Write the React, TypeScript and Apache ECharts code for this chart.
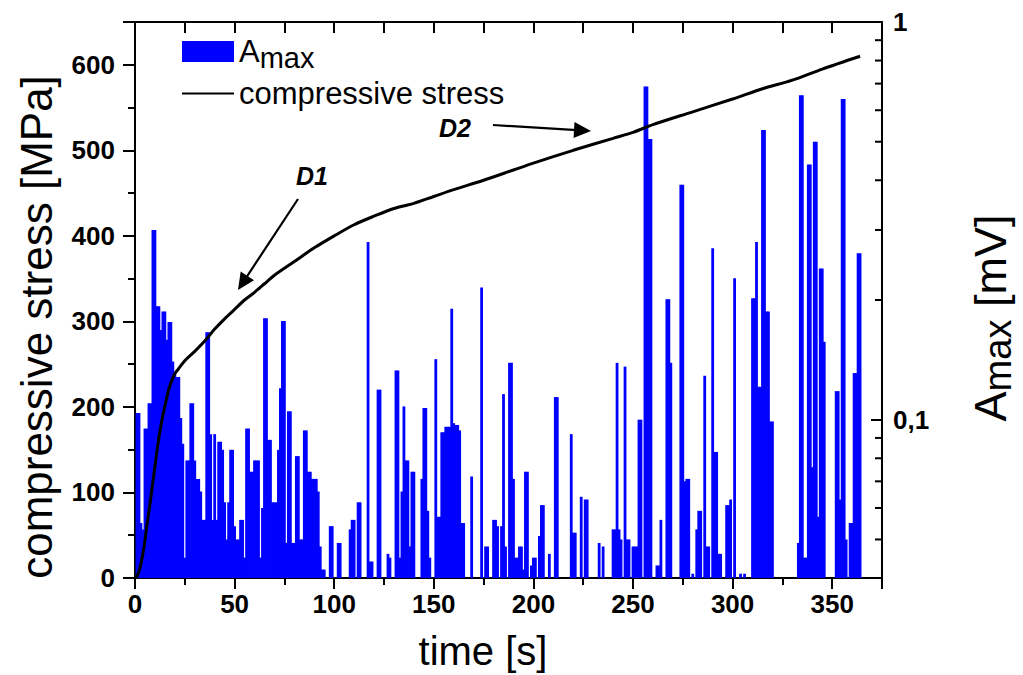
import React, { useEffect, useRef } from "react";
import * as echarts from "echarts";

// ---------------- data ----------------
// A_max bars (one per second): time [s] and amplitude [mV]
const amaxTime = [
  1, 2, 3, 4, 5, 6, 7, 8, 9, 10,
  11, 12, 13, 14, 15, 16, 17, 18, 19, 20,
  21, 22, 23, 24, 25, 26, 27, 28, 29, 30,
  31, 32, 33, 34, 35, 36, 37, 38, 39, 40,
  41, 42, 43, 44, 45, 46, 47, 48, 49, 50,
  51, 52, 53, 54, 55, 56, 57, 58, 59, 60,
  61, 62, 63, 64, 65, 66, 67, 68, 69, 70,
  71, 72, 73, 74, 75, 76, 77, 78, 79, 80,
  81, 82, 83, 84, 85, 86, 87, 88, 89, 90,
  91, 92, 93, 94, 95,
  98, 99, 102, 103, 108, 109, 110, 112, 113,
  117, 118, 119, 122, 123, 127, 128,
  131, 132, 133, 134, 135, 136, 137, 138, 139, 140,
  144, 145, 146, 147, 148,
  151, 152, 153, 154, 155, 156, 157, 158, 159, 160,
  161, 162, 163, 164, 165,
  169, 174, 176, 177, 180,
  181, 182, 184, 185, 186, 188, 189, 190,
  191, 192, 193, 194, 195, 196, 197, 199, 200,
  201, 203, 204, 205, 208,
  211, 212, 219, 220,
  221, 224, 226, 227,
  233, 235, 240,
  241, 242, 243, 244, 246, 247, 248, 250,
  251, 252, 253, 254, 256, 257, 258, 259,
  262, 263, 264, 267, 268, 269,
  274, 275, 276, 277, 278, 280,
  282, 283, 284, 286, 287, 288, 290,
  291, 292, 293, 294, 297, 298, 299,
  301, 304, 306, 310,
  311, 312, 313, 314, 315, 316, 317, 318, 319, 320,
  333, 334, 335, 336, 337, 338, 339, 340,
  341, 342, 343, 344, 345, 346,
  352, 353, 354, 355, 356, 357, 359, 360,
  361, 362, 363, 364,
];
const amaxMV = [
  0.104, 0.104, 0.055, 0.053, 0.095, 0.095, 0.11, 0.11, 0.3, 0.3,
  0.193, 0.193, 0.168, 0.187, 0.187, 0.159, 0.176, 0.176, 0.14, 0.132,
  0.128, 0.128, 0.101, 0.087, 0.045, 0.079, 0.079, 0.11, 0.11, 0.079,
  0.071, 0.071, 0.066, 0.056, 0.056, 0.166, 0.166, 0.092, 0.056, 0.092,
  0.056, 0.088, 0.088, 0.084, 0.062, 0.05, 0.062, 0.084, 0.084, 0.054,
  0.05, 0.05, 0.056, 0.056, 0.045, 0.095, 0.095, 0.074, 0.074, 0.079,
  0.079, 0.079, 0.045, 0.06, 0.18, 0.18, 0.089, 0.089, 0.062, 0.062,
  0.062, 0.084, 0.12, 0.177, 0.177, 0.049, 0.105, 0.105, 0.049, 0.049,
  0.081, 0.081, 0.05, 0.05, 0.094, 0.094, 0.074, 0.074, 0.071, 0.071,
  0.071, 0.066, 0.048, 0.042, 0.042,
  0.054, 0.054, 0.049, 0.049, 0.053, 0.056, 0.056, 0.062, 0.062,
  0.28, 0.044, 0.044, 0.119, 0.119, 0.046, 0.045,
  0.133, 0.133, 0.045, 0.066, 0.108, 0.079, 0.079, 0.048, 0.074, 0.074,
  0.071, 0.107, 0.107, 0.059, 0.045,
  0.142, 0.057, 0.057, 0.093, 0.093, 0.096, 0.096, 0.096, 0.19, 0.098,
  0.097, 0.097, 0.094, 0.055, 0.055,
  0.072, 0.215, 0.048, 0.048, 0.056,
  0.056, 0.054, 0.054, 0.116, 0.048, 0.139, 0.139, 0.071,
  0.045, 0.045, 0.048, 0.048, 0.042, 0.074, 0.074, 0.043, 0.045,
  0.045, 0.051, 0.061, 0.061, 0.046,
  0.114, 0.114, 0.092, 0.052,
  0.052, 0.064, 0.063, 0.063,
  0.049, 0.048, 0.053,
  0.053, 0.139, 0.053, 0.05, 0.136, 0.05, 0.05, 0.048,
  0.048, 0.048, 0.1, 0.1, 0.688, 0.688, 0.508, 0.508,
  0.043, 0.043, 0.056, 0.201, 0.201, 0.139,
  0.39, 0.39, 0.07, 0.071, 0.071, 0.041,
  0.053, 0.059, 0.059, 0.129, 0.048, 0.048, 0.27,
  0.083, 0.083, 0.046, 0.046, 0.061, 0.061, 0.063,
  0.227, 0.041, 0.041, 0.202,
  0.202, 0.28, 0.121, 0.121, 0.535, 0.535, 0.187, 0.187, 0.099, 0.099,
  0.049, 0.654, 0.654, 0.045, 0.045, 0.438, 0.438, 0.076,
  0.5, 0.5, 0.057, 0.24, 0.24, 0.157,
  0.118, 0.118, 0.063, 0.64, 0.64, 0.05, 0.055, 0.055,
  0.131, 0.131, 0.262, 0.262,
];

// compressive stress curve
const stressTime = [
  0, 1, 2, 3, 4, 5, 6, 7, 8, 9, 10, 11, 12, 13, 14, 15, 16, 17, 18, 19, 20, 21, 22,
  25, 30, 35, 40, 45, 50, 55, 60, 65, 70, 80, 90, 100, 110, 120, 130, 140, 150,
  160, 175, 190, 200, 220, 240, 250, 260, 280, 300, 315, 330, 345, 364,
];
const stressMPa = [
  0, 2, 8, 17, 29, 44, 62, 78, 95, 113, 130, 148, 164, 178, 190, 201, 211, 221, 228, 234, 239, 242, 245,
  254, 265, 277, 291, 303, 314, 325, 334, 344, 354, 370, 386, 400, 413, 423, 432, 438, 446,
  454, 465, 477, 485, 500, 514, 521, 530, 545, 560, 572, 582, 595, 610,
];

// axis settings
const X_MIN = 0;
const X_MAX = 375;
const STRESS_MIN = 0;
const STRESS_MAX = 650;
const AMAX_MIN = 0.04;
const AMAX_MAX = 1;
const amaxMinorTicks = [0.05, 0.06, 0.07, 0.08, 0.09, 0.2, 0.3, 0.4, 0.5, 0.6, 0.7, 0.8, 0.9];

const FONT = '"Liberation Sans", Arial, Helvetica, sans-serif';
const BLUE = "#0000ff";

function arrow(x1: number, y1: number, x2: number, y2: number, L = 17, W = 8) {
  const dx = x2 - x1;
  const dy = y2 - y1;
  const len = Math.hypot(dx, dy);
  const ux = dx / len;
  const uy = dy / len;
  const nx = -uy;
  const ny = ux;
  const bx = x2 - ux * L;
  const by = y2 - uy * L;
  return [
    {
      type: "line",
      shape: { x1, y1, x2: bx + ux * 3, y2: by + uy * 3 },
      style: { stroke: "#000", lineWidth: 2.2 },
      silent: true,
    },
    {
      type: "polygon",
      shape: { points: [[x2, y2], [bx + nx * W, by + ny * W], [bx - nx * W, by - ny * W]] },
      style: { fill: "#000" },
      silent: true,
    },
  ];
}

function textEl(text: string, x: number, y: number, opts: any = {}) {
  return {
    type: "text",
    x,
    y,
    rotation: opts.rotation || 0,
    silent: true,
    style: {
      text,
      fill: "#000",
      fontFamily: FONT,
      fontSize: opts.fontSize || 40,
      fontWeight: opts.fontWeight || "normal",
      fontStyle: opts.fontStyle || "normal",
      align: "center",
      verticalAlign: "middle",
      textAlign: "center",
      textVerticalAlign: "middle",
      rich: opts.rich,
    },
  };
}

const axisLineStyle = { color: "#000", width: 2 };

export default function App() {
  const ref = useRef<HTMLDivElement>(null);

  useEffect(() => {
    if (!ref.current) return;
    const chart = echarts.init(ref.current, null, { renderer: "svg" });

    const option: any = {
      animation: false,
      backgroundColor: "#fff",
      grid: { left: 135, right: 141, top: 22, bottom: 97, containLabel: false },
      legend: {
        left: 176,
        top: 31,
        orient: "vertical",
        itemWidth: 52,
        itemHeight: 21,
        itemGap: 6,
        selectedMode: false,
        data: [
          { name: "Amax", icon: "rect" },
          { name: "compressive stress", itemStyle: { opacity: 0, color: "rgba(0,0,0,0)" } },
        ],
        formatter: (name: string) => (name === "Amax" ? "{a|A}{s|max}" : name),
        textStyle: {
          color: "#000",
          fontFamily: FONT,
          fontSize: 31,
          rich: {
            a: { fontSize: 31, fontFamily: FONT, color: "#000" },
            s: { fontSize: 29, fontFamily: FONT, color: "#000", padding: [12, 0, 0, 0] },
          },
        },
      },
      xAxis: [
        {
          type: "value",
          position: "bottom",
          min: X_MIN,
          max: X_MAX,
          interval: 50,
          axisLine: { show: true, onZero: false, lineStyle: axisLineStyle },
          axisTick: { show: true, inside: false, length: 11, lineStyle: axisLineStyle },
          minorTick: { show: true, splitNumber: 2, length: 7, lineStyle: axisLineStyle },
          axisLabel: {
            formatter: (v: number) => (v % 50 === 0 ? String(v) : ""),
            color: "#000",
            fontFamily: FONT,
            fontSize: 26,
            fontWeight: "bold",
            margin: 13,
          },
          splitLine: { show: false },
        },
        {
          type: "value",
          position: "top",
          min: X_MIN,
          max: X_MAX,
          interval: 25,
          axisLine: { show: true, onZero: false, lineStyle: axisLineStyle },
          axisTick: { show: true, inside: true, length: 11, lineStyle: axisLineStyle },
          axisLabel: { show: false },
          splitLine: { show: false },
        },
      ],
      yAxis: [
        {
          type: "value",
          position: "left",
          min: STRESS_MIN,
          max: STRESS_MAX,
          interval: 100,
          axisLine: { show: true, onZero: false, lineStyle: axisLineStyle },
          axisTick: { show: true, inside: false, length: 12, lineStyle: axisLineStyle },
          minorTick: { show: true, splitNumber: 2, length: 7, lineStyle: axisLineStyle },
          axisLabel: {
            formatter: (v: number) => (v % 100 === 0 && v <= 600 ? String(v) : ""),
            color: "#000",
            fontFamily: FONT,
            fontSize: 26,
            fontWeight: "bold",
            margin: 20,
          },
          splitLine: { show: false },
        },
        {
          type: "log",
          logBase: 10,
          position: "right",
          min: AMAX_MIN,
          max: AMAX_MAX,
          axisLine: { show: true, onZero: false, lineStyle: axisLineStyle },
          axisTick: { show: true, inside: true, length: 11, lineStyle: axisLineStyle },
          axisLabel: {
            formatter: (v: number) =>
              Math.abs(v - 0.1) < 1e-6 ? "0,1" : Math.abs(v - 1) < 1e-6 ? "1" : "",
            color: "#000",
            fontFamily: FONT,
            fontSize: 26,
            fontWeight: "bold",
            margin: 11,
          },
          splitLine: { show: false },
        },
      ],
      series: [
        {
          name: "Amax",
          type: "custom",
          xAxisIndex: 0,
          yAxisIndex: 1,
          clip: true,
          itemStyle: { color: BLUE },
          encode: { x: 0, y: 1 },
          data: amaxTime.map((t, i) => [t, amaxMV[i]]),
          renderItem: (params: any, api: any) => {
            const t = api.value(0);
            const v = api.value(1);
            const p0 = api.coord([t - 0.5, v]);
            const p1 = api.coord([t + 0.5, AMAX_MIN]);
            return {
              type: "rect",
              shape: {
                x: p0[0] - 0.4,
                y: p0[1],
                width: p1[0] - p0[0] + 0.8,
                height: p1[1] - p0[1],
              },
              style: { fill: BLUE },
            };
          },
          z: 2,
        },
        {
          name: "compressive stress",
          type: "line",
          xAxisIndex: 0,
          yAxisIndex: 0,
          data: stressTime.map((t, i) => [t, stressMPa[i]]),
          showSymbol: false,
          symbol: "none",
          smooth: 0.3,
          lineStyle: { color: "#000", width: 3 },
          itemStyle: { color: "#000" },
          z: 5,
        },
        {
          name: "amaxMinorTicks",
          type: "custom",
          xAxisIndex: 0,
          yAxisIndex: 1,
          silent: true,
          encode: { x: 0, y: 1 },
          data: amaxMinorTicks.map((v) => [X_MAX, v]),
          renderItem: (params: any, api: any) => {
            const p = api.coord([api.value(0), api.value(1)]);
            return {
              type: "line",
              shape: { x1: p[0] - 7, y1: p[1], x2: p[0], y2: p[1] },
              style: { stroke: "#000", lineWidth: 2 },
            };
          },
          z: 6,
        },
      ],
      graphic: [
        textEl("time [s]", 483, 651, { fontSize: 40 }),
        textEl("compressive stress [MPa]", 36, 327, { fontSize: 44, rotation: Math.PI / 2 }),
        textEl("{a|A}{s|max}{a| [mV]}", 990, 318, {
          rotation: Math.PI / 2,
          fontSize: 45,
          rich: {
            a: { fontSize: 45, fontFamily: FONT, fill: "#000", color: "#000" },
            s: { fontSize: 38, fontFamily: FONT, fill: "#000", color: "#000", padding: [16, 0, 0, 0] },
          },
        }),
        textEl("D1", 312, 176, { fontSize: 25, fontWeight: "bold", fontStyle: "italic" }),
        ...arrow(298, 199, 238, 290),
        textEl("D2", 455, 128, { fontSize: 25, fontWeight: "bold", fontStyle: "italic" }),
        ...arrow(493, 125, 591, 131),
      ],
    };

    chart.setOption(option);
    return () => chart.dispose();
  }, []);

  return (
    <div
      ref={ref}
      style={{ position: "fixed", left: 0, top: 0, width: 1023, height: 675, background: "#fff" }}
    />
  );
}
